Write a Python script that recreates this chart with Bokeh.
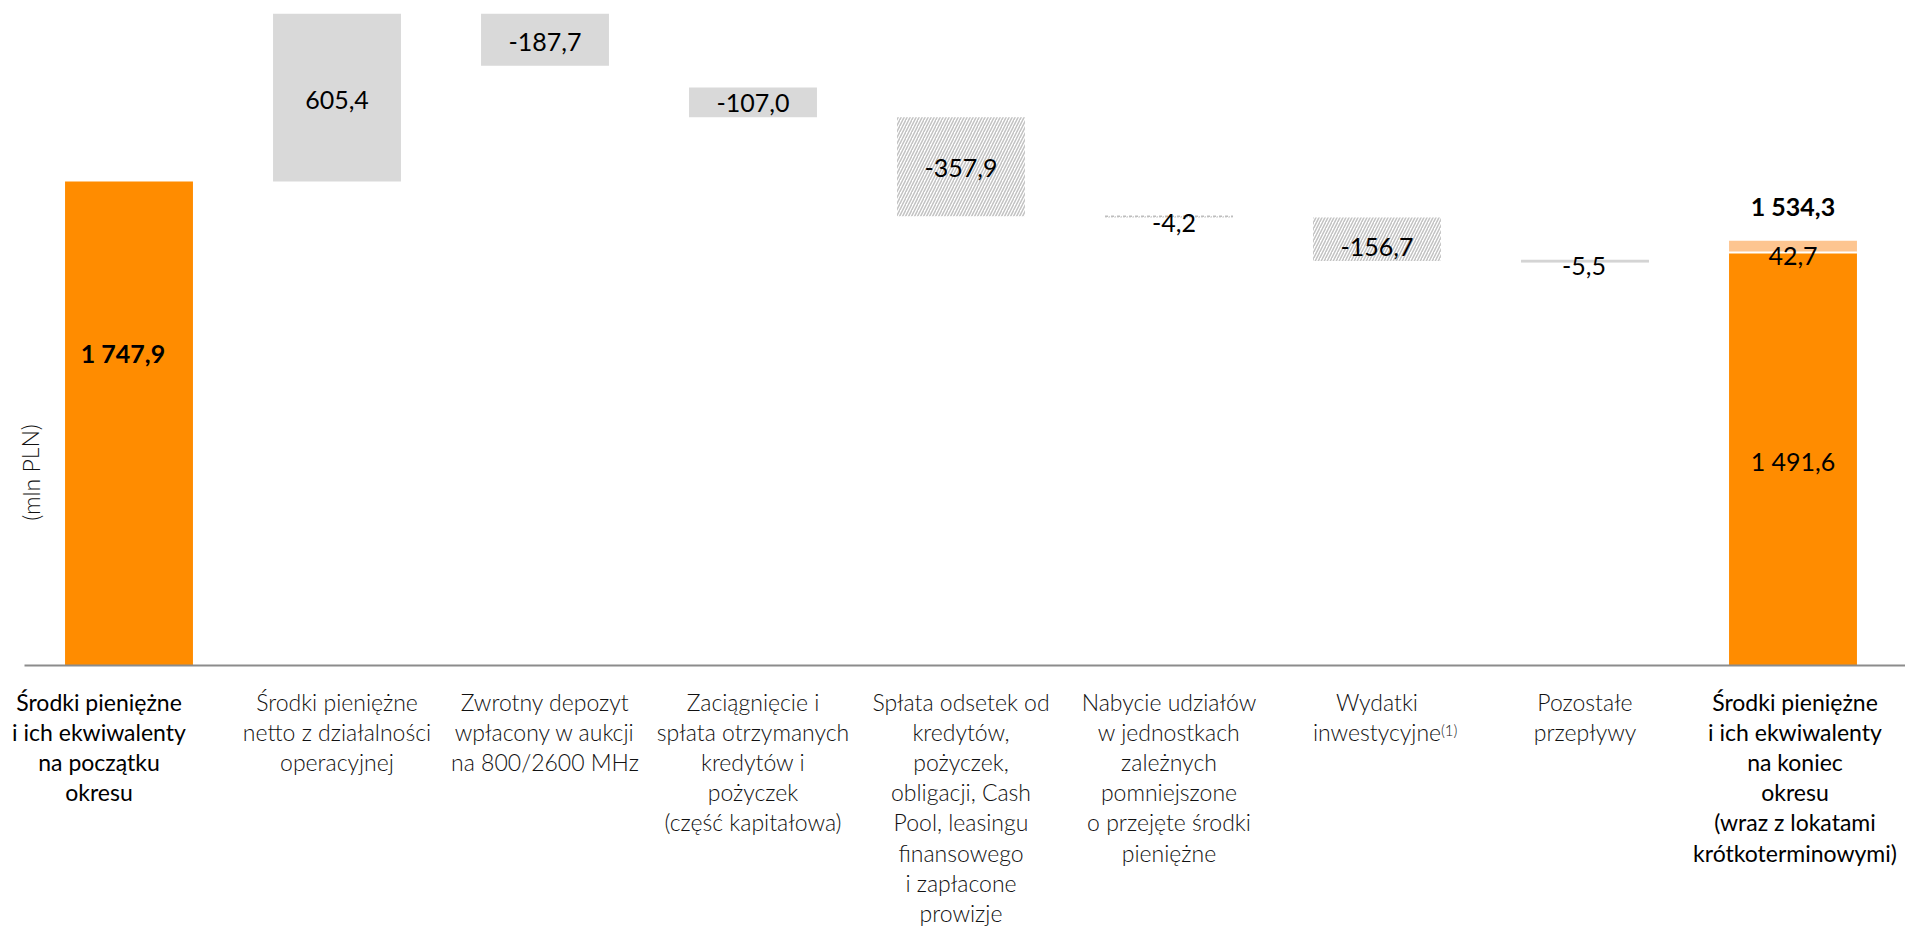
from bokeh.plotting import figure
from bokeh.models import Range1d, ColumnDataSource
from bokeh.core.properties import value
from bokeh.embed import file_html
from bokeh.resources import INLINE

# ---------------- data ----------------
categories = [
    "Środki pieniężne\ni ich ekwiwalenty\nna początku\nokresu",
    "Środki pieniężne\nnetto z działalności\noperacyjnej",
    "Zwrotny depozyt\nwpłacony w aukcji\nna 800/2600 MHz",
    "Zaciągnięcie i\nspłata otrzymanych\nkredytów i\npożyczek\n(część kapitałowa)",
    "Spłata odsetek od\nkredytów,\npożyczek,\nobligacji, Cash\nPool, leasingu\nfinansowego\ni zapłacone\nprowizje",
    "Nabycie udziałów\nw jednostkach\nzależnych\npomniejszone\no przejęte środki\npieniężne",
    "Wydatki\ninwestycyjne",
    "Pozostałe\nprzepływy",
    "Środki pieniężne\ni ich ekwiwalenty\nna koniec\nokresu\n(wraz z lokatami\nkrótkoterminowymi)",
]
opening_balance = 1747.9
steps = [605.4, -187.7, -107.0, -357.9, -4.2, -156.7, -5.5]
step_labels = ["605,4", "-187,7", "-107,0", "-357,9", "-4,2", "-156,7", "-5,5"]
step_hatched = [False, False, False, True, True, True, False]
# level at which the 3rd step starts, as drawn in the source chart
step3_start_read = 2087.0
closing_cash = 1491.6
closing_deposits = 42.7
closing_total = 1534.3
opening_label = "1 747,9"
closing_cash_label = "1 491,6"
closing_deposits_label = "42,7"
closing_total_label = "1 534,3"
footnote_mark = "(1)"
unit_title = "(mln PLN)"

# ---------------- layout ----------------
W, H = 1905, 928
PPX = 208.0                  # px per category
X0 = -128.5 / PPX            # first bar centre at 128.5 px
PPY = 484.0 / 1747.9         # px per mln PLN
BASE_PX = 665.0              # baseline position from top
Y_TOP = BASE_PX / PPY
Y_BOT = -(H - BASE_PX) / PPY
BAR_W = 0.615


def dy(px):
    return px / PPY


def dx(px):
    return px / PPX


ORANGE = "#FF8C00"
LIGHT_OR = "#FDC590"
GRAY = "#D9D9D9"
FONT = value("Lato")
LIGHT_FONT = value("Lato Light")

p = figure(width=W, height=H, x_range=Range1d(X0, X0 + W / PPX),
           y_range=Range1d(Y_BOT, Y_TOP), output_backend="svg",
           toolbar_location=None, min_border=0)
p.axis.visible = False
p.grid.visible = False
p.outline_line_color = None
p.background_fill_color = "white"

# opening bar
p.quad(left=[0 - BAR_W / 2], right=[0 + BAR_W / 2], bottom=[0], top=[opening_balance],
       fill_color=ORANGE, line_color=None)

# floating steps
starts = []
level = opening_balance
for i, s in enumerate(steps):
    if i == 2:
        level = step3_start_read
    starts.append(level)
    level = level + s
ends = [a + s for a, s in zip(starts, steps)]
xs = list(range(1, 1 + len(steps)))
lo = [min(a, b) for a, b in zip(starts, ends)]
hi = [max(a, b) for a, b in zip(starts, ends)]

plain = ColumnDataSource(dict(
    l=[x - BAR_W / 2 for x, h in zip(xs, step_hatched) if not h],
    r=[x + BAR_W / 2 for x, h in zip(xs, step_hatched) if not h],
    b=[v for v, h in zip(lo, step_hatched) if not h],
    t=[v for v, h in zip(hi, step_hatched) if not h]))
p.quad(left="l", right="r", bottom="b", top="t", source=plain,
       fill_color=GRAY, line_color=None)

hatched = ColumnDataSource(dict(
    l=[x - BAR_W / 2 for x, h in zip(xs, step_hatched) if h],
    r=[x + BAR_W / 2 for x, h in zip(xs, step_hatched) if h],
    b=[v for v, h in zip(lo, step_hatched) if h],
    t=[v for v, h in zip(hi, step_hatched) if h]))
p.quad(left="l", right="r", bottom="b", top="t", source=hatched,
       fill_color="white", line_color=None, hatch_pattern="/",
       hatch_color="#C2C2C2", hatch_weight=1.5, hatch_scale=6)

# thin steps drawn as lines so they stay visible
for x, v, s, h in zip(xs, hi, steps, step_hatched):
    if abs(s) < 10:
        if h:
            p.segment(x0=[x - BAR_W / 2], x1=[x + BAR_W / 2], y0=[v], y1=[v],
                      line_color="#BDBDBD", line_width=1.5, line_dash="3 3")
        else:
            p.segment(x0=[x - BAR_W / 2], x1=[x + BAR_W / 2], y0=[v], y1=[v],
                      line_color="#D4D4D4", line_width=2.5)

# closing bar
xc = len(categories) - 1
p.quad(left=[xc - BAR_W / 2], right=[xc + BAR_W / 2], bottom=[0], top=[closing_cash],
       fill_color=ORANGE, line_color=None)
p.quad(left=[xc - BAR_W / 2], right=[xc + BAR_W / 2], bottom=[closing_cash],
       top=[closing_cash + closing_deposits], fill_color=LIGHT_OR, line_color=None)
p.segment(x0=[xc - BAR_W / 2], x1=[xc + BAR_W / 2], y0=[closing_cash], y1=[closing_cash],
          line_color="white", line_width=2)

# baseline
p.segment(x0=[X0 + dx(24)], x1=[X0 + W / PPX], y0=[0], y1=[0],
          line_color="#8C8C8C", line_width=2)

# value labels (pixel nudges relative to bar middle, up positive)
lab_nudge = [-2, -2, -1, -1, -6, -8, -4]
lab_dx = [0, 0, 0, 0, 5, 0, -1]
p.text(x=[x + dx(d) for x, d in zip(xs, lab_dx)],
       y=[(a + b) / 2 + dy(n) for a, b, n in zip(lo, hi, lab_nudge)],
       text=step_labels, text_font=FONT, text_font_size="25px", text_color="black",
       text_align="center", text_baseline="middle")

p.text(x=[0 + dx(-6)], y=[opening_balance / 2 + dy(71)], text=[opening_label],
       text_font=FONT, text_font_size="25px", text_font_style="bold",
       text_color="black", text_align="center", text_baseline="middle")
p.text(x=[xc], y=[closing_cash / 2 + dy(-2)], text=[closing_cash_label],
       text_font=FONT, text_font_size="25px", text_color="black",
       text_align="center", text_baseline="middle")
p.text(x=[xc], y=[closing_cash + closing_deposits / 2 + dy(-9)], text=[closing_deposits_label],
       text_font=FONT, text_font_size="25px", text_color="black",
       text_align="center", text_baseline="middle")
p.text(x=[xc], y=[closing_total + dy(35)], text=[closing_total_label],
       text_font=FONT, text_font_size="25px", text_font_style="bold",
       text_color="black", text_align="center", text_baseline="middle")

# category labels
cat_y = dy(-22)
LH = 1.08
mid = list(range(1, len(categories) - 1))
p.text(x=mid, y=[cat_y] * len(mid), text=categories[1:-1], text_font=LIGHT_FONT,
       text_font_size="23px", text_color="#111111", text_align="center",
       text_baseline="top", text_line_height=LH)
p.text(x=[0 + dx(-30), xc + dx(2)], y=[cat_y] * 2, text=[categories[0], categories[-1]],
       text_font=FONT, text_font_size="23px", text_color="black", text_align="center",
       text_baseline="top", text_line_height=LH)
# footnote marker after "inwestycyjne"
p.text(x=[6 + dx(64)], y=[dy(-(729 - BASE_PX))], text=[footnote_mark], text_font=LIGHT_FONT,
       text_font_size="15px", text_color="#111111", text_align="left", text_baseline="middle")

# unit title
p.text(x=[X0 + dx(30)], y=[dy(BASE_PX - 472)], text=[unit_title], angle=1.5708,
       text_font=LIGHT_FONT, text_font_size="23px", text_color="#111111",
       text_align="center", text_baseline="middle")

open("out.html", "w").write(file_html(p, INLINE))
